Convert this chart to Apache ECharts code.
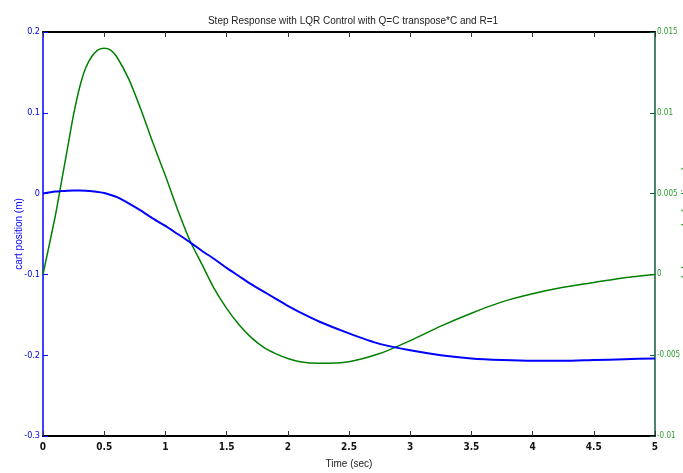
<!DOCTYPE html>
<html>
<head>
<meta charset="utf-8">
<script src="https://cdn.jsdelivr.net/npm/echarts@6/dist/echarts.min.js"></script>
<style>
html,body{margin:0;padding:0;background:#fff;}
#c{width:683px;height:473px;}
</style>
</head>
<body>
<div id="c"></div>
<script>
var timeValues = [0, 0.1, 0.15, 0.2, 0.25, 0.3, 0.35, 0.4, 0.45, 0.5, 0.55, 0.6, 0.7, 0.8, 0.9, 1.0, 1.1, 1.2, 1.3, 1.4, 1.5, 1.6, 1.7, 1.8, 1.9, 2.0, 2.1, 2.25, 2.5, 2.75, 3.0, 3.25, 3.5, 3.75, 4.0, 4.25, 4.5, 4.75, 5.0];
var cartPosition = [0, 0.0025, 0.0031, 0.0035, 0.0037, 0.0037, 0.0035, 0.003, 0.002, 0.0008, -0.0015, -0.004, -0.012, -0.021, -0.031, -0.040, -0.050, -0.060, -0.071, -0.081, -0.092, -0.102, -0.112, -0.121, -0.130, -0.139, -0.147, -0.158, -0.173, -0.186, -0.194, -0.200, -0.204, -0.206, -0.207, -0.207, -0.206, -0.205, -0.204];
var pendulumAngle = [0, 0.0036, 0.0057, 0.0078, 0.0099, 0.0116, 0.0128, 0.0135, 0.0139, 0.0140, 0.0139, 0.0135, 0.0121, 0.0102, 0.0081, 0.0061, 0.0040, 0.0021, 0.0006, -0.0009, -0.0021, -0.0031, -0.0039, -0.0045, -0.0049, -0.0052, -0.0054, -0.0055, -0.0054, -0.0049, -0.0041, -0.0032, -0.0024, -0.0017, -0.0012, -0.0008, -0.0005, -0.0002, 0.0];
var xTicks = [0, 5, 0.5];
var leftTicks = [-0.3, 0.2, 0.1];
var rightTicks = [-0.01, 0.015, 0.005];
var titleText = 'Step Response with LQR Control with Q=C transpose*C and R=1';
var xName = 'Time (sec)';
var leftName = 'cart position (m)';
var rightName = 'pendulum angle (radians)';

var FONT = "'Liberation Sans Narrow', 'Liberation Sans', Arial, sans-serif";
var NARROW = "'DejaVu Sans Condensed', 'Liberation Sans Narrow', 'Liberation Sans', sans-serif";
var BLUE = '#0000ff';
var GREEN = '#008000';
var GREEN_AXIS = '#0b5e3a';
var GREEN_LABEL = '#2e9a2e';

function pairs(xs, ys){ return xs.map(function(x,i){ return [x, ys[i]]; }); }

var chart = echarts.init(document.getElementById('c'), null, {renderer:'canvas'});
chart.setOption({
  animation: false,
  backgroundColor: '#ffffff',
  title: {
    text: titleText, left: 348, top: 11, textAlign: 'center',
    textStyle: {fontFamily: FONT, fontSize: 10, fontWeight: 'normal', color: '#222'}
  },
  grid: {left: 43, right: 28, top: 32, bottom: 37, containLabel: false, outerBoundsMode: 'none'},
  xAxis: [{
    type: 'value', position: 'bottom', min: xTicks[0], max: xTicks[1], interval: xTicks[2],
    name: xName, nameLocation: 'middle', nameGap: 23, nameMoveOverlap: false,
    nameTextStyle: {fontFamily: FONT, fontSize: 10, color: '#222'},
    axisLine: {show: true, onZero: false, lineStyle: {color: '#000', width: 2}},
    axisTick: {show: true, inside: true, length: 5, lineStyle: {color: '#333', width: 1}},
    axisLabel: {fontFamily: NARROW, fontSize: 10, fontWeight: 'bold', color: '#111', margin: 6},
    splitLine: {show: false}
  }, {
    type: 'value', position: 'top', min: xTicks[0], max: xTicks[1], interval: xTicks[2],
    axisLine: {show: true, onZero: false, lineStyle: {color: '#000', width: 2}},
    axisTick: {show: true, inside: true, length: 5, lineStyle: {color: '#333', width: 1}},
    axisLabel: {show: false},
    splitLine: {show: false}
  }],
  yAxis: [{
    type: 'value', position: 'left', min: leftTicks[0], max: leftTicks[1], interval: leftTicks[2],
    name: leftName, nameLocation: 'middle', nameGap: 19, nameRotate: 90, nameMoveOverlap: false,
    nameTextStyle: {fontFamily: FONT, fontSize: 10, color: BLUE},
    axisLine: {show: true, onZero: false, lineStyle: {color: BLUE, width: 1.5}},
    axisTick: {show: true, inside: true, length: 5, lineStyle: {color: BLUE, width: 1}},
    axisLabel: {fontFamily: NARROW, fontSize: 9, color: BLUE, margin: 3},
    splitLine: {show: false}
  }, {
    type: 'value', position: 'right', min: rightTicks[0], max: rightTicks[1], interval: rightTicks[2],
    name: rightName, nameLocation: 'middle', nameGap: 26, nameRotate: 90, nameMoveOverlap: false,
    nameTextStyle: {fontFamily: FONT, fontSize: 12, color: GREEN_LABEL},
    axisLine: {show: true, onZero: false, lineStyle: {color: GREEN_AXIS, width: 1.5}},
    axisTick: {show: true, inside: true, length: 5, lineStyle: {color: GREEN_AXIS, width: 1}},
    axisLabel: {fontFamily: NARROW, fontSize: 8, color: GREEN_LABEL, margin: 2},
    splitLine: {show: false}
  }],
  series: [{
    type: 'line', xAxisIndex: 0, yAxisIndex: 0, data: pairs(timeValues, cartPosition),
    smooth: 0.25, showSymbol: false, lineStyle: {color: BLUE, width: 2}, z: 3
  }, {
    type: 'line', xAxisIndex: 0, yAxisIndex: 1, data: pairs(timeValues, pendulumAngle),
    smooth: 0.25, showSymbol: false, lineStyle: {color: GREEN, width: 1.5}, z: 2
  }]
});
</script>
</body>
</html>
